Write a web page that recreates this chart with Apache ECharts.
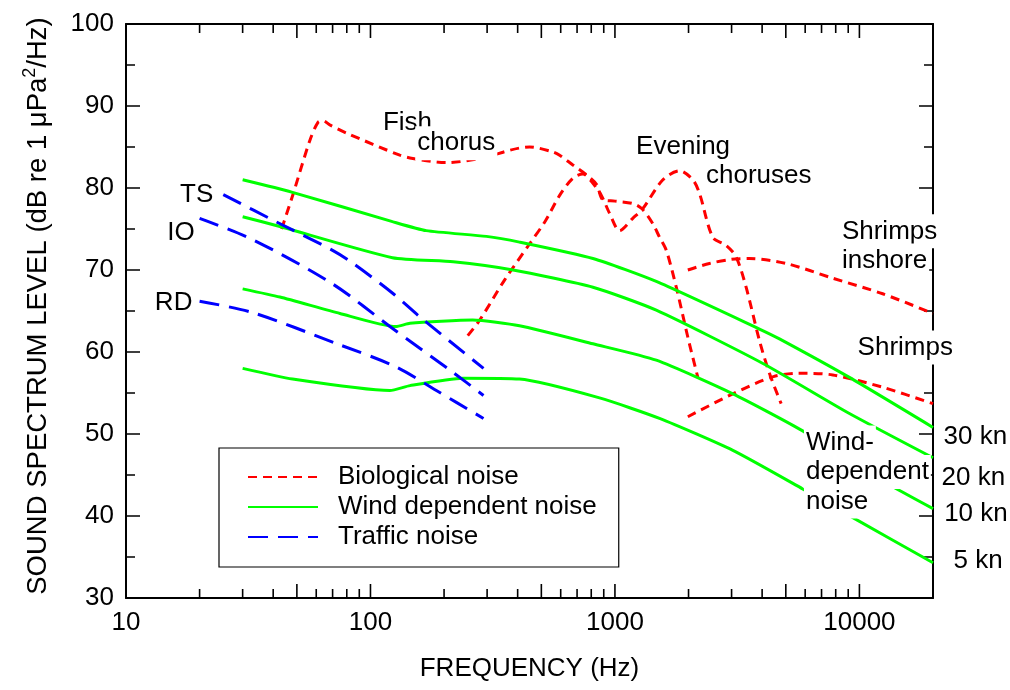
<!DOCTYPE html>
<html>
<head>
<meta charset="utf-8">
<script src="https://cdn.jsdelivr.net/npm/echarts@6/dist/echarts.min.js"></script>
<style>
html,body{margin:0;padding:0;background:#fff;}
#chart{width:1010px;height:690px;}
</style>
</head>
<body>
<div id="chart"></div>
<script>
// ---------------- DATA ----------------
const xTickLabels = [10, 100, 1000, 10000];
const majorTickFreqs = [10, 100, 1000, 10000];
const midTickFreqs = [50, 500, 5000];
const minorTickFreqs = [20,30,40,60,70,80,90,200,300,400,600,700,800,900,2000,3000,4000,6000,7000,8000,9000];

// Biological noise (Hz, dB)
const fishChorus = [[43.3,75.0],[48.3,79.3],[56.5,85.8],[61,88.0],[64,88.2],[68.2,87.7],[79.8,86.7],[131.8,84.0],[149,83.6],[204,83.1],[280,83.6],[448,85.0],[557,84.4],[594,84.0],[673,82.8],[765,81.6],[843,80.4],[890,78.6],[1000,78.4],[1183,78.1],[1286,77.5],[1425,75.7],[1522,74.0],[1622,72.4],[1782,67.9],[1987,61.8],[2183,56.9]];
const eveningChorus = [[250,62.0],[280,63.9],[354,68.8],[448,73.2],[520,76.0],[594,79.1],[673,81.2],[740,81.7],[811,80.6],[880,79.1],[951,76.9],[1045,74.8],[1183,76.3],[1301,77.5],[1571,81.0],[1837,82.1],[2083,81.0],[2220,79.3],[2513,74.0],[2850,73.0],[3130,71.6],[3440,67.9],[3900,61.4],[4285,57.4],[4785,53.7]];
const shrimpsInshore = [[1987,70.0],[2436,70.8],[3000,71.3],[3550,71.4],[5010,70.8],[7780,69.0],[12450,67.1],[20000,64.7]];
const shrimps = [[1987,52.1],[3037,54.9],[4450,57.0],[5690,57.4],[7780,57.2],[12450,55.7],[20000,53.7]];

// Wind dependent noise
const wind30kn = [[30,81.0],[47.6,79.5],[123,75.9],[169,74.8],[298,74.1],[407,73.4],[813,71.4],[1476,68.6],[3900,62.8],[4710,61.6],[9100,56.9],[20000,50.8]];
const wind20kn = [[30,76.5],[42.6,75.3],[123,71.5],[218,71.0],[383,70.0],[813,67.9],[1476,65.1],[4030,58.6],[9100,52.5],[20000,47.1]];
const wind10kn = [[30,67.7],[42.6,66.7],[75,64.7],[127,63.1],[145,63.5],[262,63.9],[407,63.2],[813,61.0],[1476,59.0],[3037,54.9],[5690,50.6],[13680,43.6],[20000,40.9]];
const wind5kn = [[30,58.0],[48,56.7],[120,55.3],[145,55.9],[239,56.8],[407,56.7],[865,54.4],[1522,51.9],[3037,48.0],[5860,43.3],[9400,39.8],[20000,34.3]];

// Traffic noise
const trafficTS = [[25,79.2],[41,75.9],[70,72.4],[85,70.8],[124,67.1],[159,64.3],[290,58.0]];
const trafficIO = [[20,76.3],[33,73.7],[70,68.3],[124,62.8],[218,57.5],[290,54.7]];
const trafficRD = [[20,66.2],[33,64.8],[73,61.0],[127,58.2],[186,55.3],[290,51.9]];

// Annotations: text anchored at (Hz, dB)
const annotations = [
  {text:'Fish', f:110.9, db:87.9, align:'left'},
  {text:'chorus', f:153.2, db:85.4, align:'left'},
  {text:'Evening', f:1203.6, db:84.9, align:'left'},
  {text:'choruses', f:2325, db:81.4, align:'left'},
  {text:'Shrimps', f:8361, db:74.65, align:'left'},
  {text:'inshore', f:8361, db:71.1, align:'left'},
  {text:'Shrimps', f:9694, db:60.5, align:'left'},
  {text:'Wind-', f:5960, db:48.9, align:'left'},
  {text:'dependent', f:5960, db:45.3, align:'left'},
  {text:'noise', f:5960, db:41.7, align:'left'},
  {text:'30 kn', f:21777, db:49.65, align:'left'},
  {text:'20 kn', f:21370, db:44.65, align:'left'},
  {text:'10 kn', f:21900, db:40.25, align:'left'},
  {text:'5 kn', f:23920, db:34.5, align:'left'},
  {text:'TS', f:23.3, db:79.05, align:'right'},
  {text:'IO', f:19.56, db:74.5, align:'right'},
  {text:'RD', f:19.14, db:65.9, align:'right'}
];

// ---------------- STYLE ----------------
const FONT = '"Liberation Sans", Arial, Helvetica, sans-serif';
const RED = '#ff0000', GREEN = '#00ff00', BLUE = '#0000ff';
const BIO = 'Biological noise', WIND = 'Wind dependent noise', TRAF = 'Traffic noise';

function lineSeries(name, data, color, type, smooth) {
  return {
    type: 'line', name: name, data: data, xAxisIndex: 0, yAxisIndex: 0,
    symbol: 'none', showSymbol: false, smooth: smooth, silent: true, z: 3,
    lineStyle: {color: color, width: 3, type: type},
    itemStyle: {color: color}
  };
}

function isDecade(v) {
  const l = Math.log10(v);
  return Math.abs(l - Math.round(l)) < 1e-6;
}

const redDash = [9, 6], blueDash = [20, 10];

const series = [
  lineSeries(BIO, fishChorus, RED, redDash, 0.3),
  lineSeries(BIO, eveningChorus, RED, redDash, 0.3),
  lineSeries(BIO, shrimpsInshore, RED, redDash, 0.3),
  lineSeries(BIO, shrimps, RED, redDash, 0.3),
  lineSeries(WIND, wind30kn, GREEN, 'solid', 0.2),
  lineSeries(WIND, wind20kn, GREEN, 'solid', 0.2),
  lineSeries(WIND, wind10kn, GREEN, 'solid', 0.2),
  lineSeries(WIND, wind5kn, GREEN, 'solid', 0.2),
  lineSeries(TRAF, trafficTS, BLUE, blueDash, 0.3),
  lineSeries(TRAF, trafficIO, BLUE, blueDash, 0.3),
  lineSeries(TRAF, trafficRD, BLUE, blueDash, 0.3),
  {
    type: 'scatter', silent: true, z: 10, clip: false, xAxisIndex: 0, yAxisIndex: 0,
    symbolSize: 1, itemStyle: {color: 'rgba(255,255,255,0)'},
    label: {show: true, color: '#000', opacity: 1, textBorderWidth: 0},
    data: annotations.map(a => ({
      value: [a.f, a.db],
      label: {
        show: true, formatter: a.text, position: [0, 0],
        align: a.align, verticalAlign: 'middle',
        fontSize: 26, fontFamily: FONT, color: '#000', opacity: 1,
        textBorderWidth: 0, textShadowBlur: 0,
        lineHeight: 26, backgroundColor: '#fff', padding: [4, 2, 4, 2]
      }
    }))
  }
];

const axisLineStyle = {show: true, onZero: false, lineStyle: {color: '#000', width: 2}};

const option = {
  animation: false,
  backgroundColor: '#fff',
  grid: {left: 126, right: 77, top: 24, bottom: 92, containLabel: false},
  legend: {
    data: [BIO, WIND, TRAF],
    orient: 'vertical', left: 219, top: 448,
    backgroundColor: '#fff', borderColor: '#000', borderWidth: 1.2,
    padding: [16, 22, 17, 28],
    itemWidth: 70, itemHeight: 14, itemGap: 4,
    selectedMode: false,
    itemStyle: {color: 'rgba(255,255,255,0)', opacity: 0, borderWidth: 0},
    textStyle: {fontSize: 26, fontFamily: FONT, color: '#000', lineHeight: 26, padding: [0, 0, 0, 15]}
  },
  xAxis: [
    {
      type: 'log', logBase: 10, min: 10, max: 20000, position: 'bottom',
      name: 'FREQUENCY (Hz)', nameLocation: 'middle', nameGap: 58,
      nameTextStyle: {fontSize: 26, fontFamily: FONT, color: '#000'},
      axisLine: axisLineStyle,
      axisTick: {show: false},
      axisLabel: {
        show: true, margin: 12, fontSize: 26, fontFamily: FONT, color: '#000',
        showMaxLabel: false,
        formatter: v => (isDecade(v) && xTickLabels.indexOf(Math.round(v)) >= 0) ? String(Math.round(v)) : ''
      },
      splitLine: {show: false}, minorTick: {show: false}, minorSplitLine: {show: false}
    },
    {
      type: 'log', logBase: 10, min: 10, max: 20000, position: 'top',
      axisLine: axisLineStyle,
      axisTick: {show: false},
      axisLabel: {show: false}, splitLine: {show: false}
    }
  ],
  yAxis: [
    {
      type: 'value', min: 30, max: 100, interval: 10, position: 'left',
      name: 'SOUND SPECTRUM LEVEL (dB re 1 μPa{sup|2}/Hz)', nameLocation: 'middle', nameGap: 71,
      nameTextStyle: {
        fontSize: 27.5, fontFamily: FONT, color: '#000', lineHeight: 34, padding: [0, 0, 0, 10],
        rich: {sup: {fontSize: 18, fontFamily: FONT, color: '#000', lineHeight: 14, verticalAlign: 'top'}}
      },
      axisLine: axisLineStyle,
      axisTick: {show: true, inside: true, length: 14, lineStyle: {color: '#000', width: 1.5}},
      minorTick: {show: true, splitNumber: 2, length: 9, lineStyle: {color: '#000', width: 1.5}},
      axisLabel: {show: true, margin: 12, fontSize: 26, fontFamily: FONT, color: '#000'},
      splitLine: {show: false}, minorSplitLine: {show: false}
    },
    {
      type: 'value', min: 30, max: 100, interval: 10, position: 'right',
      axisLine: axisLineStyle,
      axisTick: {show: true, inside: true, length: 14, lineStyle: {color: '#000', width: 1.5}},
      minorTick: {show: true, splitNumber: 2, length: 9, lineStyle: {color: '#000', width: 1.5}},
      axisLabel: {show: false},
      splitLine: {show: false}, minorSplitLine: {show: false}
    }
  ],
  series: series
};

const chart = echarts.init(document.getElementById('chart'), null, {renderer: 'canvas'});
chart.setOption(option);

// Log-axis ticks (bottom and top), positioned through the chart's own scales
function tickGraphics(vals, len) {
  const out = [];
  vals.forEach(v => {
    const b = chart.convertToPixel({gridIndex: 0}, [v, 30]);
    const t = chart.convertToPixel({gridIndex: 0}, [v, 100]);
    if (!b || !t) return;
    const st = {stroke: '#000', lineWidth: 1.6};
    out.push({type: 'line', silent: true, z: 50, shape: {x1: b[0], y1: b[1], x2: b[0], y2: b[1] - len}, style: st});
    out.push({type: 'line', silent: true, z: 50, shape: {x1: t[0], y1: t[1], x2: t[0], y2: t[1] + len}, style: st});
  });
  return out;
}
chart.setOption({
  graphic: tickGraphics(majorTickFreqs, 14)
    .concat(tickGraphics(midTickFreqs, 14))
    .concat(tickGraphics(minorTickFreqs, 9))
});
</script>
</body>
</html>
